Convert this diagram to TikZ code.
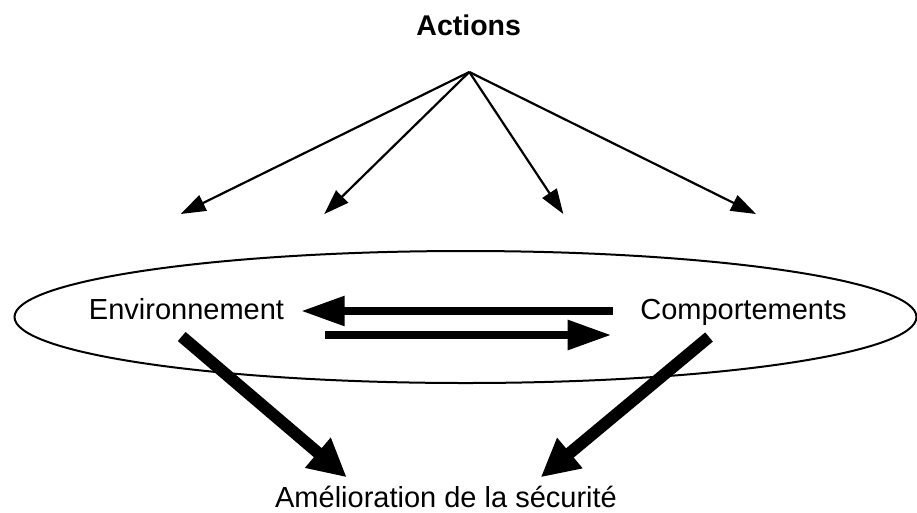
\documentclass[tikz,border=0pt]{standalone}
\usepackage{fontspec}
\setmainfont{Liberation Sans}
\usetikzlibrary{arrows.meta,shapes.geometric}
\tikzset{
  lbl/.style={inner sep=0pt, anchor=base, font=\fontsize{29}{35}\selectfont},
  thinarrow/.style={line width=2.2pt, -{Triangle[length=25pt,width=17pt]}},
  flatarrow/.style={line width=8.5pt, -{Triangle[length=44pt,width=28pt]}},
  bigarrow/.style={line width=12pt, -{Triangle[length=38pt,width=37pt]}},
  ring/.style={draw, ellipse, line width=2pt, inner sep=0pt, outer sep=0pt}
}
\begin{document}
\begin{tikzpicture}[x=1pt,y=-1pt]
\useasboundingbox (0,0) rectangle (917,512);
% ellipse
\node[ring, minimum width=902pt, minimum height=132pt] (ring) at (465.5,317) {};
% labels
\node[lbl, font=\fontsize{28.5}{34}\selectfont\bfseries] (actions) at (468.7,35) {Actions};
\node[lbl] (env) at (186.5,319.5) {Environnement};
\node[lbl] (comp) at (743.5,319.5) {Comportements};
\node[lbl] (amel) at (446,507.5) {Amélioration de la sécurité};
% thin arrows from Actions
\coordinate (apex) at (469.3,72);
\coordinate (t1) at (180.7,214);
\coordinate (t2) at (324.3,214);
\coordinate (t3) at (563.3,214);
\coordinate (t4) at (756,214);
\foreach \t in {t1,t2,t3,t4} \draw[thinarrow] (apex) -- (\t);
% horizontal arrows
\coordinate (ua) at (613,311);
\coordinate (ub) at (300.7,311);
\coordinate (la) at (325,335);
\coordinate (lb) at (611.7,335);
\draw[flatarrow] (ua) -- (ub);
\draw[flatarrow] (la) -- (lb);
% big diagonal arrows
\coordinate (ds1) at (181.7,336.5);
\coordinate (de1) at (346.7,477.3);
\coordinate (ds2) at (709,337);
\coordinate (de2) at (540.7,477.3);
\draw[bigarrow] (ds1) -- (de1);
\draw[bigarrow] (ds2) -- (de2);
\end{tikzpicture}
\end{document}
